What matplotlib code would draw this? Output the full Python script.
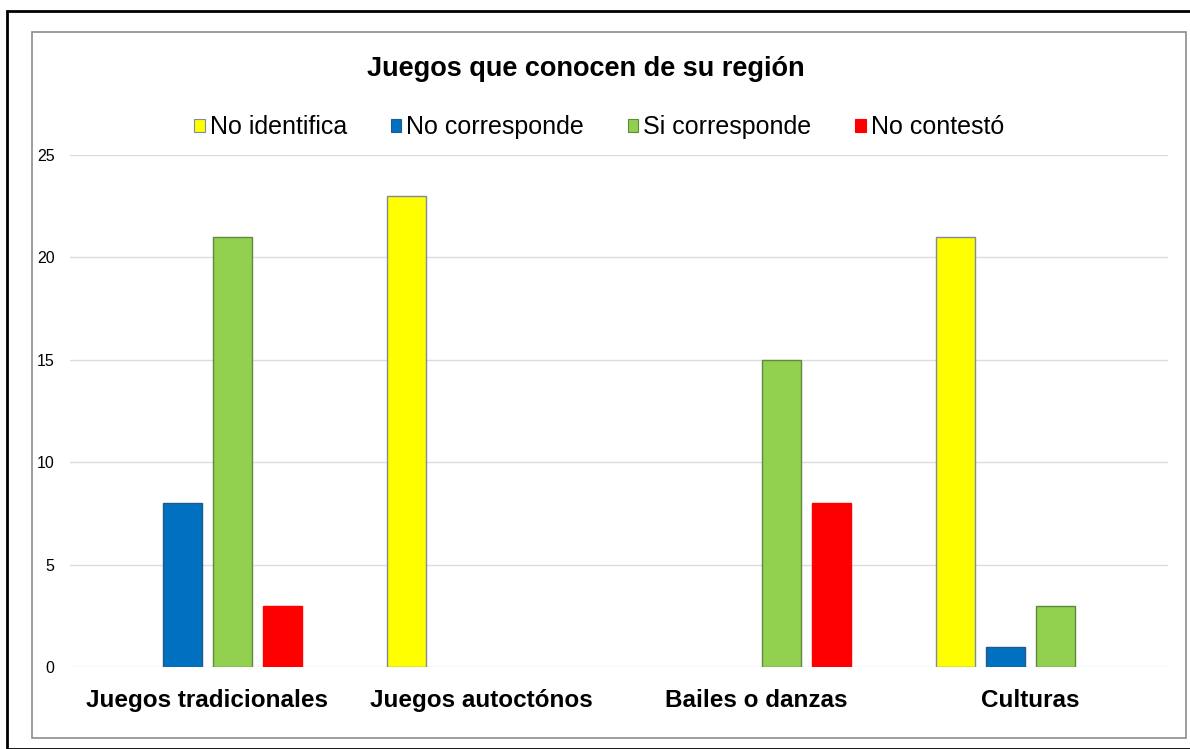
import matplotlib
matplotlib.use("Agg")
import matplotlib.pyplot as plt
from matplotlib.patches import Rectangle
import numpy as np

plt.rcParams['font.family'] = ['Liberation Sans', 'DejaVu Sans']

categories = ["Juegos tradicionales", "Juegos autoctónos", "Bailes o danzas", "Culturas"]
series = ["No identifica", "No corresponde", "Si corresponde", "No contestó"]
no_identifica = [0, 23, 0, 21]
no_corresponde = [8, 0, 0, 1]
si_corresponde = [21, 0, 15, 3]
no_contesto = [3, 0, 8, 0]
values = [no_identifica, no_corresponde, si_corresponde, no_contesto]
colors = ["#FFFF00", "#0070C0", "#92D050", "#FF0000"]
edges = ["#7f8a9a", "#245a8a", "#5f8a3c", "#FF0000"]

fig = plt.figure(figsize=(11.9, 7.49), dpi=100)
ax = fig.add_axes([70/1190, 1-667/749, 1098/1190, 512/749])

x = np.arange(len(categories))
w = 0.142
step = 0.182
for k, (vals, c, e) in enumerate(zip(values, colors, edges)):
    lw = [1 if v else 0 for v in vals]
    ax.bar(x + (k - 1.5) * step, vals, width=w, color=c, edgecolor=e,
           linewidth=lw, label=series[k], zorder=3)

ax.set_xlim(-0.5, len(categories) - 0.5)
ax.set_ylim(0, 25)
ax.set_yticks([0, 5, 10, 15, 20, 25])
ax.set_xticks(x)
ax.set_xticklabels(categories, fontsize=17.5, fontweight='bold')
ax.tick_params(axis='y', labelsize=11.5, length=0, pad=11)
ax.tick_params(axis='x', length=0, pad=16)
ax.grid(axis='y', color='#dcdcdc', linewidth=1, zorder=0)
for s in ax.spines.values():
    s.set_visible(False)

fig.text(586/1190, 1-69/749, "Juegos que conocen de su región", ha='center',
         va='center', fontsize=19.5, fontweight='bold')

handles = [Rectangle((0, 0), 1, 1, facecolor=c, edgecolor=e, linewidth=0.8)
           for c, e in zip(colors, edges)]
fig.legend(handles, series, loc='center', bbox_to_anchor=(599/1190, 1-127/749),
           ncol=4, frameon=False, fontsize=18, handlelength=0.42, handleheight=0.42,
           handletextpad=0.2, columnspacing=1.75)

# outer and inner frames
fig.patches.append(Rectangle((7/1190, 0), 1.0, 1-11/749, transform=fig.transFigure,
                             fill=False, edgecolor='black', linewidth=2))
fig.patches.append(Rectangle((32/1190, 1-738/749), 1154/1190, 706/749,
                             transform=fig.transFigure, fill=False,
                             edgecolor='#8c8c8c', linewidth=1.2))

fig.savefig("out.png", dpi=100)
